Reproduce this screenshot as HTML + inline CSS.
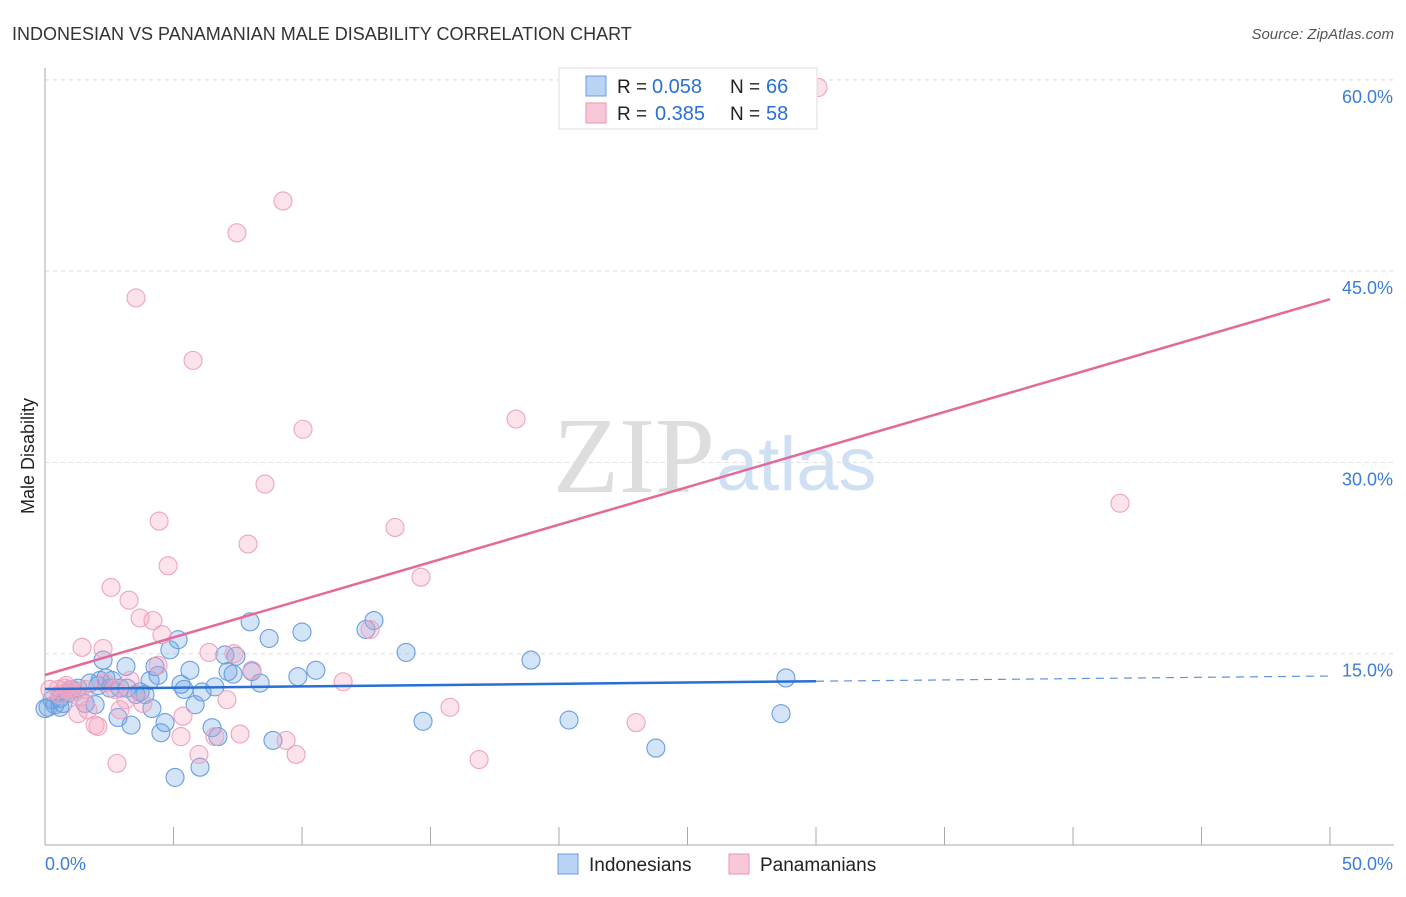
<!DOCTYPE html>
<html><head><meta charset="utf-8"><style>
body{margin:0;background:#fff;font-family:"Liberation Sans",sans-serif}
</style></head><body>
<svg width="1406" height="892" xmlns="http://www.w3.org/2000/svg" id="c">
<text x="12" y="40" font-size="18" fill="#333">INDONESIAN VS PANAMANIAN MALE DISABILITY CORRELATION CHART</text>
<text x="1394" y="39" font-size="15" fill="#555" font-style="italic" text-anchor="end">Source: ZipAtlas.com</text>
<text x="34" y="456" font-size="18" fill="#222" transform="rotate(-90 34 456)" text-anchor="middle">Male Disability</text>
<g><text x="553" y="492" font-size="108" font-family="Liberation Serif,serif" fill="#ddd">ZIP</text><text x="716" y="490" font-size="76" fill="#cfe0f4">atlas</text></g>
<g id="grid"></g><g id="pts"></g><g id="lines"></g>
<g>
<rect x="559" y="68" width="258" height="61" fill="#fff" stroke="#ddd"/>
<rect x="586" y="76" width="20" height="20" fill="#b9d3f5" stroke="#6b9be0"/>
<rect x="586" y="103" width="20" height="20" fill="#f9c8d8" stroke="#eb93b2"/>
<text x="617" y="93" font-size="19" fill="#222">R =</text>
<text x="652" y="93" font-size="20" fill="#2a6fd6">0.058</text>
<text x="730" y="93" font-size="19" fill="#222">N =</text>
<text x="766" y="93" font-size="20" fill="#2a6fd6">66</text>
<text x="617" y="120" font-size="19" fill="#222">R =</text>
<text x="655" y="120" font-size="20" fill="#2a6fd6">0.385</text>
<text x="730" y="120" font-size="19" fill="#222">N =</text>
<text x="766" y="120" font-size="20" fill="#2a6fd6">58</text>
</g>
<g>
<rect x="558" y="854" width="20" height="20" fill="#b9d3f5" stroke="#6b9be0"/>
<text x="589" y="871" font-size="19" fill="#222">Indonesians</text>
<rect x="729" y="854" width="20" height="20" fill="#f9c8d8" stroke="#eb93b2"/>
<text x="760" y="871" font-size="19" fill="#222">Panamanians</text>
</g>
</svg>
<script>
const yTicks=[15,30,45,60];
const yTickLabels=["15.0%","30.0%","45.0%","60.0%"];
const xTickLabels=["0.0%","50.0%"];
const blueX=[0.12,0.27,0.39,0.58,0.70,0.89,1.05,1.28,1.56,1.75,1.95,2.06,2.26,2.37,2.53,2.61,2.84,2.92,3.15,3.19,3.35,3.54,3.70,3.89,4.09,4.16,4.28,4.40,4.51,4.67,4.86,5.18,5.29,5.41,5.64,5.84,6.03,6.11,6.50,6.61,6.73,7.00,7.12,7.32,7.43,7.98,8.05,8.37,8.72,8.87,9.84,10.00,10.54,12.49,12.80,14.05,14.71,18.91,20.39,23.77,28.64,28.83,5.06,0.58,0,2.14];
const blueY=[10.8,11.4,11.0,11.5,11.1,11.9,12.2,12.3,11.1,12.7,11.0,12.5,14.5,13.1,12.3,12.9,10.0,12.3,14.0,12.3,9.4,11.8,12.0,11.8,12.9,10.7,14.0,13.3,8.8,9.6,15.3,16.1,12.6,12.2,13.7,11.0,6.1,12.0,9.2,12.4,8.5,14.9,13.6,13.4,14.8,17.5,13.6,12.7,16.2,8.2,13.2,16.7,13.7,16.9,17.6,15.1,9.7,14.5,9.8,7.6,10.3,13.1,5.3,10.8,10.7,12.9];
const pinkX=[30.08,9.26,7.47,3.54,5.76,18.33,10.04,8.56,41.83,4.44,13.62,7.90,4.79,14.63,2.57,3.27,3.70,4.20,4.55,1.44,2.26,6.38,7.35,8.05,12.65,11.60,0.19,0.51,0.78,0.97,1.17,1.36,1.67,1.95,2.06,2.92,3.31,2.33,2.72,3.15,4.40,5.37,5.29,5.99,7.08,7.59,9.38,9.77,15.76,16.89,23.00,2.80,6.61,0.58,1.28,3.81,1.56,0.82];
const pinkY=[59.4,50.5,48.0,42.9,38.0,33.4,32.6,28.3,26.8,25.4,24.9,23.6,21.9,21.0,20.2,19.2,17.8,17.6,16.5,15.5,15.4,15.1,15.0,13.7,16.9,12.8,12.2,12.2,12.3,12.2,12.0,11.6,10.6,9.4,9.3,10.6,12.9,12.7,12.2,11.4,14.1,10.1,8.5,7.1,11.4,8.7,8.2,7.1,10.8,6.7,9.6,6.4,8.5,11.8,10.3,11.1,12.2,12.5];
const blueTrend=[12.23,13.25]; // y at x=0, x=50
const pinkTrend=[13.33,42.8];
const X=v=>45+v*25.7, Y=v=>845-v*12.753;
const NS="http://www.w3.org/2000/svg";
function mk(t,a,p){const e=document.createElementNS(NS,t);for(const k in a)e.setAttribute(k,a[k]);p.appendChild(e);return e;}
const g=document.getElementById('grid');
let e=mk('line',{x1:45,x2:1394,y1:80,y2:80,stroke:'#ddd','stroke-dasharray':'4,4'},g);


yTicks.forEach((v,i)=>{
 let l=mk('line',{x1:45,x2:1394,y1:Y(v),y2:Y(v),stroke:'#ddd','stroke-dasharray':'4,4'},g);
 
 
 let t=mk('text',{x:1393,y:Y(v)+23,'font-size':18,fill:'#3b7dd8','text-anchor':'end'},g);t.textContent=yTickLabels[i];
 
 
});
e=mk('line',{x1:45,x2:45,y1:68,y2:845,stroke:'#aaa'},g);


e=mk('line',{x1:45,x2:1394,y1:845,y2:845,stroke:'#aaa'},g);


for(let i=0;i<=10;i++){let l=mk('line',{x1:X(i*5),x2:X(i*5),y1:827,y2:845,stroke:'#aaa'},g);
 
 }
[[0,'start'],[50,'end']].forEach((p,i)=>{let t=mk('text',{x:i?1393:45,y:870,'font-size':18,fill:'#3b7dd8','text-anchor':p[1]},g);t.textContent=xTickLabels[i];
 
 });
const P=document.getElementById('pts');
blueX.forEach((x,i)=>{let c=mk('circle',{cx:X(x),cy:Y(blueY[i]),r:9,fill:'rgba(110,165,230,0.3)',stroke:'#6a9ddf','stroke-width':1.1},P);
 
 });
pinkX.forEach((x,i)=>{let c=mk('circle',{cx:X(x),cy:Y(pinkY[i]),r:9,fill:'rgba(245,160,190,0.3)',stroke:'#eea4be','stroke-width':1.1},P);
 
 });
const L=document.getElementById('lines');
const bAt=v=>blueTrend[0]+(blueTrend[1]-blueTrend[0])*v/50;
e=mk('line',{x1:X(0),y1:Y(bAt(0)),x2:X(30),y2:Y(bAt(30)),stroke:'#2a6fd6','stroke-width':2.5},L);


e=mk('line',{x1:X(30),y1:Y(bAt(30)),x2:X(50),y2:Y(bAt(50)),stroke:'#5d93dc','stroke-width':1.2,'stroke-dasharray':'8,6'},L);


e=mk('line',{x1:X(0),y1:Y(pinkTrend[0]),x2:X(50),y2:Y(pinkTrend[1]),stroke:'#e4699a','stroke-width':2.5},L);


</script>
</body></html>
